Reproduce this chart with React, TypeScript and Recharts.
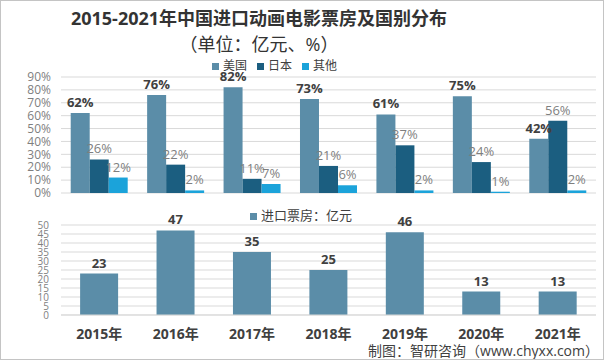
import { Bar, BarChart, CartesianGrid, LabelList, Legend, XAxis, YAxis } from 'recharts'

const years = ['2015年', '2016年', '2017年', '2018年', '2019年', '2020年', '2021年']
const usShare = [62, 76, 82, 73, 61, 75, 42]
const japanShare = [26, 22, 11, 21, 37, 24, 56]
const otherShare = [12, 2, 7, 6, 2, 1, 2]
const boxOffice = [23, 47, 35, 25, 46, 13, 13]
const shareTicks = [0, 10, 20, 30, 40, 50, 60, 70, 80, 90]
const boxTicks = [0, 5, 10, 15, 20, 25, 30, 35, 40, 45, 50]
const legendOrder = ['美国', '日本', '其他']

const font = '"Open Sans", "Noto Sans CJK SC", sans-serif'
const usColor = '#5b8da8'
const japanColor = '#1b5e80'
const otherColor = '#1ba3da'

const shareData = years.map((year, i) => ({ year, us: usShare[i], japan: japanShare[i], other: otherShare[i] }))
const boxData = years.map((year, i) => ({ year, value: boxOffice[i] }))

const pct = (v: unknown) => `${v}%`

export default function App() {
  return (
    <div
      style={{
        position: 'absolute',
        left: 0,
        top: 0,
        width: 604,
        height: 360,
        boxSizing: 'border-box',
        border: '1px solid #c4c4c4',
        background: '#ffffff',
        fontFamily: font,
        overflow: 'hidden'
      }}
    >
      <div style={{ position: 'absolute', left: 0, width: 516, top: 5, textAlign: 'center', fontSize: 18, fontWeight: 700, color: '#333333', lineHeight: '24px' }}>
        2015-2021年中国进口动画电影票房及国别分布
      </div>
      <div style={{ position: 'absolute', left: 0, width: 516, top: 31, textAlign: 'center', fontSize: 18, color: '#333333', lineHeight: '24px' }}>
        （单位：亿元、%）
      </div>

      <div style={{ position: 'absolute', left: 0, top: 0 }}>
        <BarChart width={604} height={200} data={shareData} margin={{ top: 76, right: 9, bottom: 8, left: 0 }} barGap={0} barCategoryGap="12.7%">
          <CartesianGrid stroke="#d9d9d9" vertical={false} />
          <XAxis dataKey="year" hide />
          <YAxis
            width={60}
            domain={[0, 90]}
            ticks={shareTicks}
            interval={0}
            tickFormatter={pct}
            axisLine={false}
            tickLine={false}
            tickSize={6}
            tickMargin={4}
            tick={{ fill: '#7f7f7f', fontSize: 12, fontFamily: font }}
          />
          <Legend
            verticalAlign="middle"
            align="center"
            iconType="square"
            iconSize={7}
            itemSorter={(item: any) => legendOrder.indexOf(String(item.value))}
            wrapperStyle={{ top: 55, left: 211, width: 'auto', fontSize: 12, fontFamily: font }}
            formatter={(value) => <span style={{ color: '#404040' }}>{value}</span>}
          />
          <Bar dataKey="us" name="美国" fill={usColor} isAnimationActive={false}>
            <LabelList dataKey="us" position="top" offset={6} formatter={pct} style={{ fill: '#404040', fontSize: 13, fontWeight: 700, fontFamily: font }} />
          </Bar>
          <Bar dataKey="japan" name="日本" fill={japanColor} isAnimationActive={false}>
            <LabelList dataKey="japan" position="top" offset={6} formatter={pct} style={{ fill: '#7f7f7f', fontSize: 13, fontFamily: font }} />
          </Bar>
          <Bar dataKey="other" name="其他" fill={otherColor} isAnimationActive={false}>
            <LabelList dataKey="other" position="top" offset={6} formatter={pct} style={{ fill: '#7f7f7f', fontSize: 13, fontFamily: font }} />
          </Bar>
        </BarChart>
      </div>

      <div style={{ position: 'absolute', left: 0, top: 200 }}>
        <BarChart width={604} height={160} data={boxData} margin={{ top: 24, right: 9, bottom: 16, left: 0 }} barCategoryGap="25%">
          <CartesianGrid stroke="#d9d9d9" vertical={false} />
          <XAxis
            dataKey="year"
            height={30}
            axisLine={{ stroke: '#d9d9d9' }}
            tickLine={false}
            tickSize={6}
            tickMargin={8}
            tick={{ fill: '#404040', fontSize: 14, fontWeight: 700, fontFamily: font }}
          />
          <YAxis
            width={60}
            domain={[0, 50]}
            ticks={boxTicks}
            axisLine={false}
            tickLine={false}
            tickSize={6}
            tickMargin={6}
            interval={0}
            tick={{ fill: '#7f7f7f', fontSize: 10, fontFamily: font }}
          />
          <Legend
            verticalAlign="middle"
            align="center"
            iconType="square"
            iconSize={7}
            wrapperStyle={{ top: 4, left: 249, width: 'auto', fontSize: 13, fontFamily: font }}
            formatter={(value) => <span style={{ color: '#404040' }}>{value}</span>}
          />
          <Bar dataKey="value" name="进口票房：亿元" fill={usColor} isAnimationActive={false}>
            <LabelList dataKey="value" position="top" offset={6} style={{ fill: '#404040', fontSize: 13, fontWeight: 700, fontFamily: font }} />
          </Bar>
        </BarChart>
      </div>

      <div style={{ position: 'absolute', right: 4, top: 341, fontSize: 14, color: '#404040', lineHeight: '18px' }}>
        制图：智研咨询（www.chyxx.com）
      </div>
    </div>
  )
}
